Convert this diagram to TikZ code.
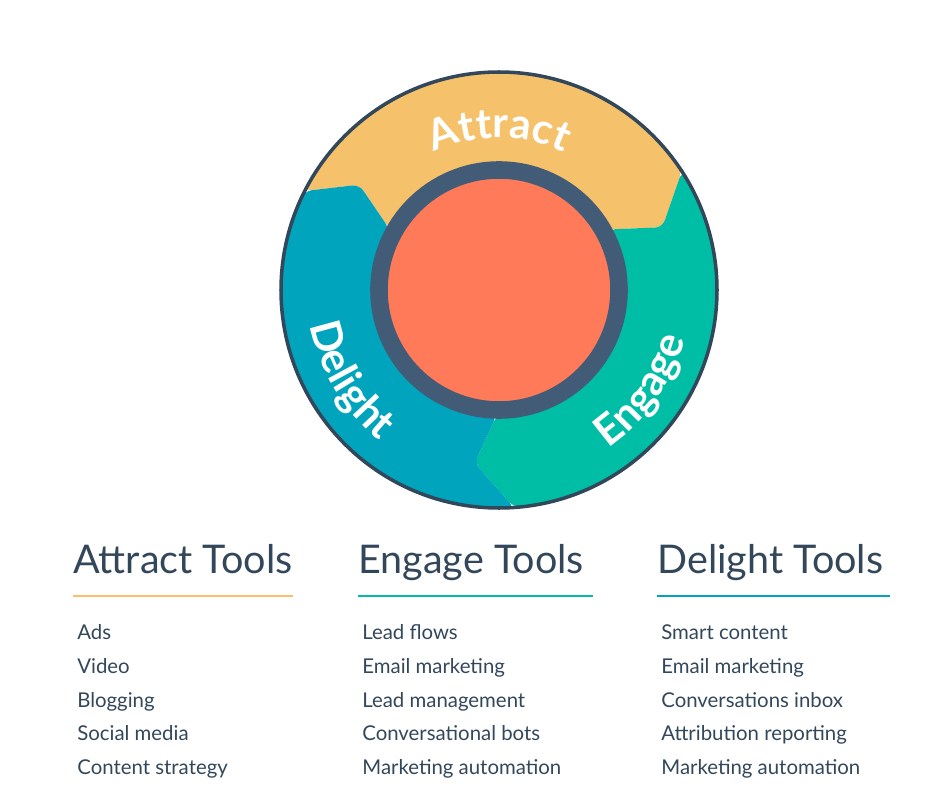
\documentclass[tikz,border=0pt]{standalone}
\usepackage{fontspec}
\setmainfont{Lato}
\usetikzlibrary{decorations.text}
\definecolor{attractc}{HTML}{F5C26B}
\definecolor{engagec}{HTML}{00BDA5}
\definecolor{delightc}{HTML}{00A4BD}
\definecolor{corec}{HTML}{FF7A59}
\definecolor{ringc}{HTML}{425B76}
\definecolor{inkc}{HTML}{33475B}
\tikzset{
  segment/.style={rounded corners=4},
  wheeltext/.style={decorate, decoration={text along path, text align=center, text color=white}},
  title/.style={anchor=base west, text=inkc, font=\fontsize{22.5}{26}\selectfont, inner sep=0},
  item/.style={anchor=base west, text=inkc, font=\fontsize{11.6}{13}\selectfont, inner sep=0},
  rule/.style={line width=1.7pt}
}
\newcommand{\wheelfont}{\bfseries\fontsize{24}{27}\selectfont}

\begin{document}
\begin{tikzpicture}[x=0.02cm, y=0.02cm]
  \useasboundingbox (0,0) rectangle (930,796);

  % the flywheel
  \begin{scope}[shift={(499,506)}]
    \coordinate (C) at (0,0);
    \fill[attractc, segment] (153:218) arc[start angle=153, end angle=33, radius=218]
      -- (21:175) -- (29:125) arc[start angle=29, end angle=151, radius=125] -- (143:175) -- cycle;
    \fill[engagec, segment] (33:218) arc[start angle=33, end angle=-86, radius=218]
      -- (-98:175) -- (-91:125) arc[start angle=-91, end angle=29, radius=125] -- (21:175) -- cycle;
    \fill[delightc, segment] (-86:218) arc[start angle=-86, end angle=-207, radius=218]
      -- (143:175) -- (151:125) arc[start angle=151, end angle=269, radius=125] -- (-98:175) -- cycle;
    \draw[inkc, line width=2pt] (C) circle[radius=218];
    \draw[ringc, fill=corec, line width=10pt] (C) circle[radius=120];

    \path[wheeltext, decoration={text={|\wheelfont|Attract}}]
      (128:152) arc[start angle=128, end angle=52, radius=152];
    \path[wheeltext, decoration={text={|\wheelfont|Delight}}]
      (176:192) arc[start angle=176, end angle=246, radius=192];
    \path[wheeltext, decoration={text={|\wheelfont|Engage}}]
      (-68:192) arc[start angle=-68, end angle=-2, radius=192];
  \end{scope}

  % tool lists
  \node (ta) [title] at (73,223) {Attract Tools};
  \node (te) [title] at (358,223) {Engage Tools};
  \node (td) [title] at (657,223) {Delight Tools};
  \draw[rule, attractc] (73,200) -- (293,200);
  \draw[rule, engagec] (358,200) -- (593,200);
  \draw[rule, delightc] (657,200) -- (890,200);

  \node (a1) [item] at (77,157) {Ads};
  \node (a2) [item] at (77,123) {Video};
  \node (a3) [item] at (77,89) {Blogging};
  \node (a4) [item] at (77,56) {Social media};
  \node (a5) [item] at (77,22) {Content strategy};

  \node (e1) [item] at (362,157) {Lead flows};
  \node (e2) [item] at (362,123) {Email marketing};
  \node (e3) [item] at (362,89) {Lead management};
  \node (e4) [item] at (362,56) {Conversational bots};
  \node (e5) [item] at (362,22) {Marketing automation};

  \node (d1) [item] at (661,157) {Smart content};
  \node (d2) [item] at (661,123) {Email marketing};
  \node (d3) [item] at (661,89) {Conversations inbox};
  \node (d4) [item] at (661,56) {Attribution reporting};
  \node (d5) [item] at (661,22) {Marketing automation};
\end{tikzpicture}
\end{document}
